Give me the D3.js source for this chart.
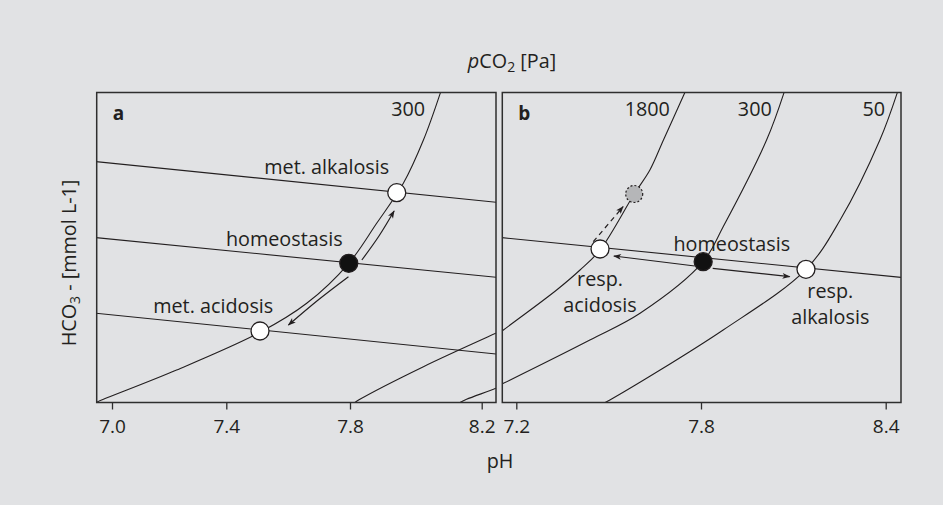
<!DOCTYPE html>
<html>
<head>
<meta charset="utf-8">
<script src="https://cdn.jsdelivr.net/npm/d3@7"></script>
<style>
    body { margin: 0; background: #e1e2e4; }
    svg { display: block; font-family: "Open Sans", sans-serif; }
    text { fill: #231f20; }
</style>
</head>
<body>
<svg id="canvas"></svg>
<script>
// pH tick labels
const ticksA = [7.0, 7.4, 7.8, 8.2];
const ticksB = [7.2, 7.8, 8.4];

// pCO2 isopleths, points as [pH, HCO3-]
const isoA300 = [[6.944, 0], [6.970, 0.32], [7.226, 3.25], [7.509, 7.02], [7.660, 9.92], [7.796, 13.92], [7.881, 17.92], [7.962, 21.92], [8.023, 26.25], [8.075, 31.02]];
const isoA2 = [[7.815, 0], [7.830, 0.32], [8.023, 3.58], [8.243, 6.92], [8.286, 7.55]];
const isoA3 = [[8.134, 0], [8.154, 0.32], [8.243, 1.42], [8.286, 2.05]];

const isoB1800 = [[7.115, 6.25], [7.158, 7.25], [7.331, 11.25], [7.407, 13.25], [7.472, 15.25], [7.583, 20.85], [7.634, 23.25], [7.678, 26.25], [7.748, 31.02]];
const isoB300 = [[7.113, 1.25], [7.158, 1.92], [7.439, 6.25], [7.602, 8.92], [7.807, 14.08], [7.872, 17.58], [8.013, 26.25], [8.070, 31.02]];
const isoB50 = [[7.472, -0.25], [7.504, 0.25], [7.872, 7.25], [8.141, 13.32], [8.252, 18.25], [8.381, 26.25], [8.438, 31.02]];

// buffer lines
const bufferA = [
    [[6.9, 24.22], [8.3, 19.83]],
    [[6.9, 16.61], [8.3, 12.34]],
    [[6.9, 9.06], [8.3, 4.66]]
];
const bufferB = [
    [[7.1, 16.65], [8.5, 12.36]]
];

// state points
const pointsA = [
    { ph: 7.942, hco3: 20.98, kind: "open" },
    { ph: 7.796, hco3: 13.92, kind: "filled" },
    { ph: 7.509, hco3: 7.15, kind: "open" }
];
const pointsB = [
    { ph: 7.583, hco3: 20.85, kind: "grey" },
    { ph: 7.472, hco3: 15.35, kind: "open" },
    { ph: 7.807, hco3: 14.08, kind: "filled" },
    { ph: 8.141, hco3: 13.32, kind: "open" }
];

// arrows
const arrowsA = [
    { pts: [[7.836, 14.25], [7.888, 16.65], [7.934, 19.15]], dashed: false },
    { pts: [[7.795, 12.58], [7.697, 10.25], [7.601, 7.75]], dashed: false }
];
const arrowsB = [
    { pts: [[7.780, 13.65], [7.517, 14.65]], dashed: false },
    { pts: [[7.838, 13.42], [8.088, 12.58]], dashed: false },
    { pts: [[7.450, 16.08], [7.547, 19.58]], dashed: true }
];

// labels
const labelsA = [
    { text: "300", ph: 8.028, hco3: 28.65, anchor: "end" },
    { text: "met. alkalosis", ph: 7.919, hco3: 22.82, anchor: "end" },
    { text: "homeostasis", ph: 7.776, hco3: 15.65, anchor: "end" },
    { text: "met. acidosis", ph: 7.552, hco3: 8.98, anchor: "end" }
];
const labelsB = [
    { text: "1800", ph: 7.699, hco3: 28.65, anchor: "end" },
    { text: "300", ph: 8.030, hco3: 28.65, anchor: "end" },
    { text: "50", ph: 8.398, hco3: 28.65, anchor: "end" },
    { text: "homeostasis", ph: 7.900, hco3: 15.15, anchor: "middle" },
    { text: "resp.", ph: 7.472, hco3: 11.65, anchor: "middle" },
    { text: "acidosis", ph: 7.472, hco3: 9.08, anchor: "middle" },
    { text: "resp.", ph: 8.220, hco3: 10.42, anchor: "middle" },
    { text: "alkalosis", ph: 8.220, hco3: 7.85, anchor: "middle" }
];

const width = 943;
const height = 505;
const plotTop = 92.5;
const plotBottom = 402.5;
const fontSize = 19;
const labelSize = 19.8;

const canvas = d3.select("#canvas")
    .attr("width", width)
    .attr("height", height);

const yScale = d3.scaleLinear()
    .domain([0, 31])
    .range([plotBottom, plotTop]);

const xScaleA = d3.scaleLinear()
    .domain([7.0, 7.4, 7.8, 8.2])
    .range([112, 226.3, 350, 481.7]);
const xScaleB = d3.scaleLinear()
    .domain([7.2, 8.4])
    .range([516.3, 885.7]);

const defs = canvas.append("defs");
defs.append("marker")
    .attr("id", "head")
    .attr("viewBox", "0 -5 10 10")
    .attr("refX", 9)
    .attr("refY", 0)
    .attr("markerWidth", 10)
    .attr("markerHeight", 8)
    .attr("markerUnits", "userSpaceOnUse")
    .attr("orient", "auto")
    .append("path")
    .attr("d", "M0,-3.6L10,0L0,3.6L2.5,0Z")
    .attr("fill", "#231f20");

function drawPanel(id, xScale, left, right, ticks, isos, buffers, points, arrows, labels, letter) {
    defs.append("clipPath")
        .attr("id", "clip-" + id)
        .append("rect")
        .attr("x", left)
        .attr("y", plotTop)
        .attr("width", right - left)
        .attr("height", plotBottom - plotTop);

    const g = canvas.append("g");
    const inner = g.append("g").attr("clip-path", `url(#clip-${id})`);

    const line = d3.line()
        .x(d => xScale(d[0]))
        .y(d => yScale(d[1]));
    const curve = d3.line()
        .x(d => xScale(d[0]))
        .y(d => yScale(d[1]))
        .curve(d3.curveCatmullRom.alpha(0.5));

    inner.selectAll(".buffer")
        .data(buffers)
        .enter()
        .append("path")
        .attr("d", line)
        .attr("fill", "none")
        .attr("stroke", "#231f20")
        .attr("stroke-width", 1.1);

    inner.selectAll(".iso")
        .data(isos)
        .enter()
        .append("path")
        .attr("d", curve)
        .attr("fill", "none")
        .attr("stroke", "#231f20")
        .attr("stroke-width", 1.1);

    g.selectAll(".arrow")
        .data(arrows)
        .enter()
        .append("path")
        .attr("d", d => curve(d.pts))
        .attr("fill", "none")
        .attr("stroke", "#231f20")
        .attr("stroke-width", 1.2)
        .attr("stroke-dasharray", d => d.dashed ? "5,4" : null)
        .attr("marker-end", "url(#head)");

    g.selectAll(".pt")
        .data(points)
        .enter()
        .append("circle")
        .attr("cx", d => xScale(d.ph))
        .attr("cy", d => yScale(d.hco3))
        .attr("r", d => d.kind === "grey" ? 8.5 : 9)
        .attr("fill", d => d.kind === "filled" ? "#111" : d.kind === "grey" ? "#b5b6b8" : "#fff")
        .attr("stroke", "#231f20")
        .attr("stroke-width", d => d.kind === "grey" ? 1.2 : 1.3)
        .attr("stroke-dasharray", d => d.kind === "grey" ? "2,2" : null);

    g.selectAll(".lbl")
        .data(labels)
        .enter()
        .append("text")
        .attr("x", d => xScale(d.ph))
        .attr("y", d => yScale(d.hco3))
        .attr("text-anchor", d => d.anchor)
        .attr("font-size", labelSize)
        .text(d => d.text);

    g.append("text")
        .attr("x", left + 16)
        .attr("y", 120)
        .attr("font-size", fontSize)
        .attr("font-weight", "bold")
        .text(letter);

    g.append("rect")
        .attr("x", left)
        .attr("y", plotTop)
        .attr("width", right - left)
        .attr("height", plotBottom - plotTop)
        .attr("fill", "none")
        .attr("stroke", "#2e2e2e")
        .attr("stroke-width", 1.5);

    const axis = d3.axisBottom(xScale)
        .tickValues(ticks)
        .tickFormat(d3.format(".1f"))
        .tickSizeInner(7)
        .tickSizeOuter(0)
        .tickPadding(10);

    const ax = g.append("g")
        .attr("transform", `translate(0, ${plotBottom})`)
        .call(axis);
    ax.select(".domain").remove();
    ax.selectAll(".tick line")
        .attr("stroke", "#2e2e2e")
        .attr("stroke-width", 1.3);
    ax.selectAll(".tick text")
        .attr("font-family", "'Open Sans', sans-serif")
        .attr("font-size", fontSize)
        .attr("fill", "#231f20");
}

drawPanel("a", xScaleA, 96.7, 496, ticksA, [isoA300, isoA2, isoA3], bufferA, pointsA, arrowsA, labelsA, "a");
drawPanel("b", xScaleB, 502.3, 901, ticksB, [isoB1800, isoB300, isoB50], bufferB, pointsB, arrowsB, labelsB, "b");

// titles
const title = canvas.append("text")
    .attr("x", 512)
    .attr("y", 68)
    .attr("text-anchor", "middle")
    .attr("font-size", labelSize);
title.append("tspan").attr("font-style", "italic").text("p");
title.append("tspan").text("CO");
title.append("tspan").attr("dy", 4).attr("font-size", 14).text("2");
title.append("tspan").attr("dy", -4).text(" [Pa]");

canvas.append("text")
    .attr("x", 500)
    .attr("y", 468)
    .attr("text-anchor", "middle")
    .attr("font-size", labelSize)
    .text("pH");

const ylab = canvas.append("text")
    .attr("transform", "translate(76, 263) rotate(-90)")
    .attr("text-anchor", "middle")
    .attr("font-size", labelSize);
ylab.append("tspan").text("HCO");
ylab.append("tspan").attr("dy", 4).attr("font-size", 14).text("3");
ylab.append("tspan").attr("dy", -4).text(" - [mmol L-1]");
</script>
</body>
</html>
